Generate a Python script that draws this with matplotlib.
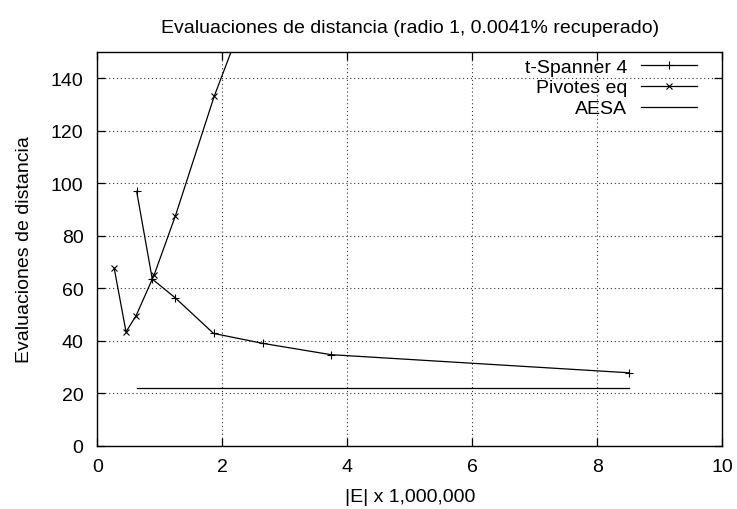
import matplotlib
matplotlib.use("Agg")
import matplotlib.pyplot as plt

plt.rcParams['font.family'] = ['Liberation Sans', 'DejaVu Sans']

# t-Spanner 4
span_x = [0.63, 0.88, 1.25, 1.86, 2.65, 3.74, 8.51]
span_y = [96.9, 63.5, 56.3, 42.8, 39.0, 34.7, 27.8]

# Pivotes eq
piv_x = [0.27, 0.46, 0.62, 0.91, 1.25, 1.87, 2.65]
piv_y = [67.7, 43.4, 49.5, 65.1, 87.6, 133.1, 182.0]

# AESA
aesa_x = [0.63, 0.88, 1.25, 1.86, 2.65, 3.74, 8.51]
aesa_y = [21.9, 21.9, 21.9, 21.9, 21.9, 21.9, 21.9]

fig = plt.figure(figsize=(7.37, 5.10), dpi=100)
ax = fig.add_axes([0.132, 0.124, 0.848, 0.772])

ax.plot(span_x, span_y, 'k-', marker='+', markersize=5.5, linewidth=0.9,
        markeredgewidth=0.8, label='t-Spanner 4')
ax.plot(piv_x, piv_y, 'k-', marker='x', markersize=4.5, linewidth=0.9,
        markeredgewidth=0.8, label='Pivotes eq')
ax.plot(aesa_x, aesa_y, 'k-', linewidth=0.9, label='AESA')

ax.set_xlim(0, 10)
ax.set_ylim(0, 150)
ax.set_xticks([0, 2, 4, 6, 8, 10])
ax.set_yticks([0, 20, 40, 60, 80, 100, 120, 140])
ax.grid(True, color='#333333', linestyle=(0, (1, 2.5)), linewidth=0.8)
ax.tick_params(direction='in', top=True, right=True, length=6, width=0.9,
               labelsize=14)
ax.tick_params(axis='x', pad=9)
ax.tick_params(axis='y', pad=10)
for s in ax.spines.values():
    s.set_linewidth(1.0)

ax.set_title('Evaluaciones de distancia (radio 1, 0.0041% recuperado)',
             fontsize=14, pad=14.5)
ax.set_xlabel('|E| x 1,000,000', fontsize=14, labelpad=9)
ax.set_ylabel('Evaluaciones de distancia', fontsize=14, labelpad=12.5)

ax.legend(loc='upper right', bbox_to_anchor=(0.9595, 0.985), frameon=False,
          markerfirst=False, fontsize=14, handlelength=2.9, handletextpad=0.7,
          labelspacing=0.17, borderaxespad=0, borderpad=0)

fig.savefig('out.png', dpi=100)
